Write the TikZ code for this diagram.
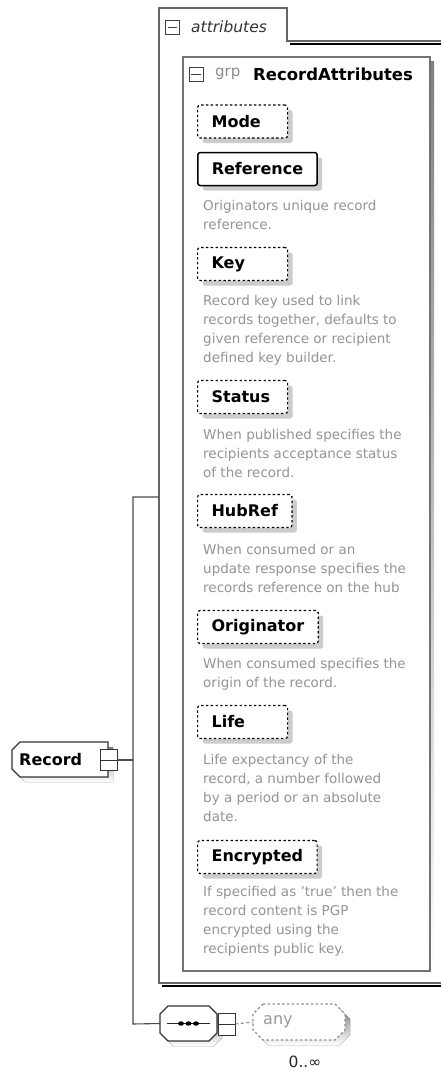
\documentclass[tikz,border=0pt]{standalone}
\usepackage{fontspec}
\setmainfont{DejaVu Sans}
\usetikzlibrary{shadows}
\definecolor{frameline}{gray}{0.40}
\definecolor{shade}{gray}{0.80}
\definecolor{desctext}{gray}{0.58}
\begin{document}
\begin{tikzpicture}[x=1pt,y=-1pt,
  attrbox/.style={draw=black, line width=1.2pt, dash pattern=on 2.4pt off 2.4pt,
    fill=white, rounded corners=2.5pt, anchor=west, minimum height=33pt,
    minimum width=90pt, inner xsep=14pt, inner ysep=0pt,
    font=\fontsize{16}{18}\selectfont\bfseries,
    drop shadow={shadow xshift=5pt, shadow yshift=-5pt, fill=shade, opacity=1}},
  shortname/.style={text width=62pt, align=left},
  reqbox/.style={attrbox, solid, line width=1.5pt},
  desc/.style={anchor=north west, inner sep=0pt, align=left, text=desctext,
    font=\fontsize{13.5}{19}\selectfont},
  minusicon/.style={draw=black!75, line width=0.9pt, fill=white,
    minimum width=14pt, minimum height=14pt, inner sep=0pt},
  kidicon/.style={draw=black!80, line width=0.9pt, fill=white,
    minimum width=17pt, minimum height=21pt, inner sep=0pt},
  wire/.style={draw=black!70, line width=1.1pt},
  shapeline/.style={draw=black!80, line width=1.2pt, fill=white},
]
\useasboundingbox (0,0) rectangle (441,1071);
\clip (0,0) rectangle (441,1071);

% ---- attributes frame (tabbed) ----
\draw[shade, line width=1.5pt] (162,986) -- (452,986);
\draw[shade, line width=1.5pt] (290,44) -- (452,44);
\draw[frameline, line width=1.6pt]
  (159,983) -- (159,8) -- (287,8) -- (287,41) -- (452,41) -- (452,983) -- cycle;
\node[minusicon] (attricon) at (172.5,27) {};
\draw[black!75, line width=0.9pt] ([xshift=2.5pt]attricon.west) -- ([xshift=-2.5pt]attricon.east);
\node[anchor=west, inner sep=0pt, text=black!80, font=\fontsize{15.5}{18}\selectfont\itshape]
  (attrlabel) at (191,27) {attributes};

% ---- RecordAttributes group ----
\fill[shade] (187,61) rectangle (434,975);
\draw[black!55, line width=1.1pt, fill=white] (183,57) rectangle (430,971);
\node[minusicon] (grpicon) at (196,74) {};
\draw[black!75, line width=0.9pt] ([xshift=2.5pt]grpicon.west) -- ([xshift=-2.5pt]grpicon.east);
\node[anchor=west, inner sep=0pt, text=black!45, font=\fontsize{15}{18}\selectfont]
  (grpkind) at (215,74) {grp};
\node[anchor=west, inner sep=0pt, font=\fontsize{16.5}{18}\selectfont\bfseries]
  (grpname) at (253,74) {RecordAttributes};

% ---- attributes ----
\node[attrbox, shortname] (mode) at (197,121.5) {Mode};

\node[reqbox] (reference) at (197,169) {Reference};
\node[desc] (referencedesc) at (203,200) {Originators unique record\\reference.};

\node[attrbox, shortname] (key) at (197,264) {Key};
\node[desc] (keydesc) at (203,295) {Record key used to link\\records together, defaults to\\given reference or recipient\\defined key builder.};

\node[attrbox, shortname] (status) at (197,397) {Status};
\node[desc] (statusdesc) at (203,429) {When published specifies the\\recipients acceptance status\\of the record.};

\node[attrbox] (hubref) at (197,511) {HubRef};
\node[desc] (hubrefdesc) at (203,544) {When consumed or an\\update response specifies the\\records reference on the hub};

\node[attrbox] (originator) at (197,627) {Originator};
\node[desc] (originatordesc) at (203,658) {When consumed specifies the\\origin of the record.};

\node[attrbox, shortname] (life) at (197,722) {Life};
\node[desc] (lifedesc) at (203,754) {Life expectancy of the\\record, a number followed\\by a period or an absolute\\date.};

\node[attrbox] (encrypted) at (197,857) {Encrypted};
\node[desc] (encrypteddesc) at (203,886) {If specified as 'true' then the\\record content is PGP\\encrypted using the\\recipients public key.};

% ---- Record element ----
\fill[shade] (25,747) -- (113,747) -- (113,782) -- (25,782) -- (17,774) -- (17,755) -- cycle;
\draw[shapeline] (20,742) -- (108,742) -- (108,777) -- (20,777) -- (12,769) -- (12,750) -- cycle;
\node[anchor=west, inner xsep=7pt, inner ysep=0pt, text width=82pt, minimum height=35pt,
  align=left, font=\fontsize{16}{18}\selectfont\bfseries] (record) at (12,759.5) {Record};
\node[kidicon] (recicon) at (108.5,760) {};
\draw[black!80, line width=0.9pt] (recicon.west) -- (recicon.east);

% ---- sequence compositor ----
\fill[shade] (173,1011) -- (214,1011) -- (222,1019) -- (222,1038) -- (214,1046) -- (173,1046) -- (165,1038) -- (165,1019) -- cycle;
\draw[shapeline] (168,1006) -- (209,1006) -- (217,1014) -- (217,1033) -- (209,1041) -- (168,1041) -- (160,1033) -- (160,1014) -- cycle;
\node[minimum width=57pt, minimum height=35pt, inner sep=0pt] (seq) at (188.5,1023.5) {};
\draw[black!85, line width=1.1pt] ([xshift=7pt]seq.west) -- ([xshift=-7pt]seq.east);
\foreach \dx in {-7.5,0,7.5}
  \fill[black] ([xshift=\dx pt]seq.center) ellipse (3pt and 2.2pt);
\node[kidicon, minimum height=22pt] (seqicon) at (226.5,1024) {};
\draw[black!80, line width=0.9pt] (seqicon.west) -- (seqicon.east);

% ---- any wildcard ----
\fill[shade] (268,1009) -- (340,1009) -- (350,1019) -- (350,1035) -- (340,1045) -- (268,1045) -- (258,1035) -- (258,1019) -- cycle;
\draw[black!45, line width=1.2pt, dash pattern=on 2.4pt off 2.4pt, fill=white]
  (263,1004) -- (335,1004) -- (345,1014) -- (345,1030) -- (335,1040) -- (263,1040) -- (253,1030) -- (253,1014) -- cycle;
\node[anchor=west, inner xsep=10pt, inner ysep=0pt, text width=72pt, minimum height=36pt,
  align=left, text=black!40, font=\fontsize{16}{18}\selectfont] (any) at (253,1022) {any};
\node[inner sep=0pt, text=black!85, font=\fontsize{15.5}{17}\selectfont] (occurs) at (305,1062) {0..∞};

% ---- connectors ----
\coordinate (junction) at (133,760);
\coordinate (topturn) at (133,497);
\coordinate (botturn) at (133,1024);
\coordinate (framein) at (159,497);
\draw[wire] (recicon.east) -- (junction);
\draw[wire] (framein) -- (topturn) -- (botturn) -- (seq.west);
\draw[black!45, line width=1.1pt, dash pattern=on 3pt off 2.5pt] (seqicon.east) -- (any.west);
\end{tikzpicture}
\end{document}
